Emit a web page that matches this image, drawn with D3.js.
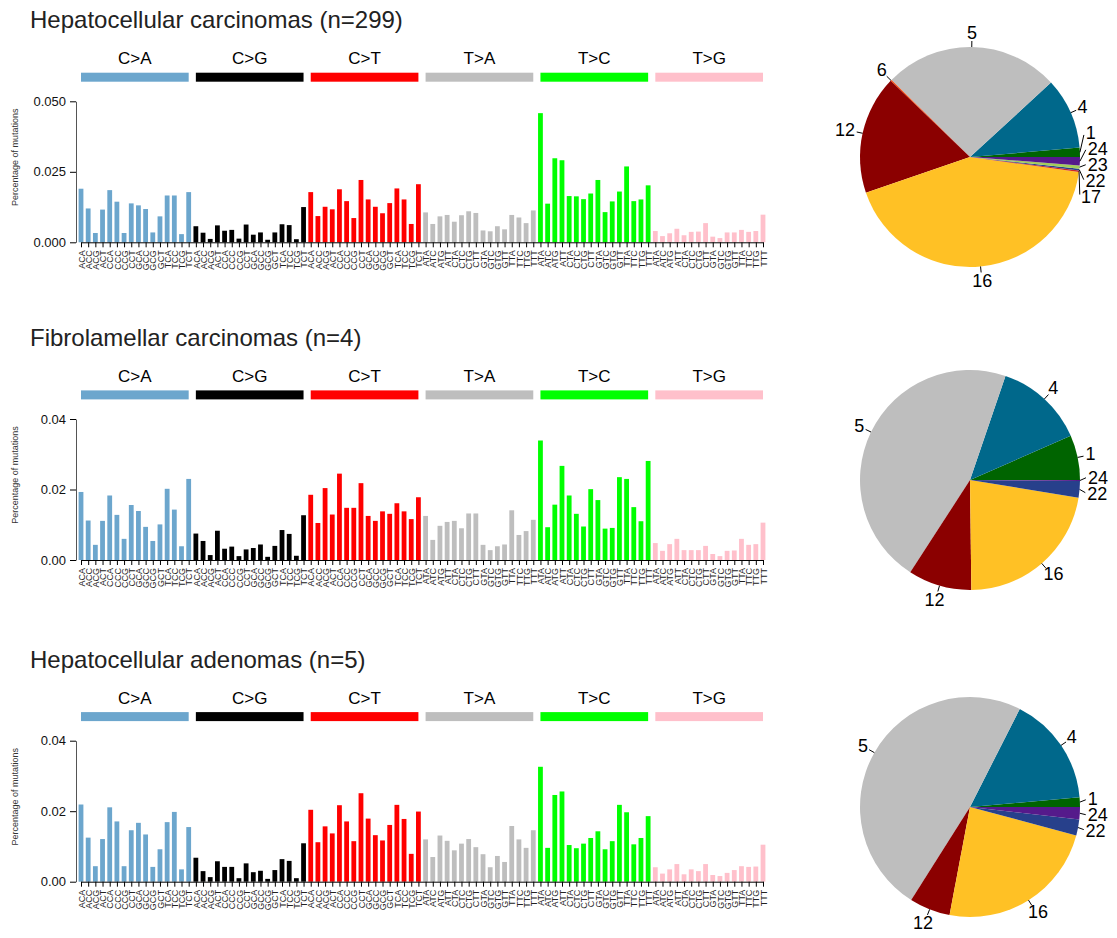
<!DOCTYPE html>
<html><head><meta charset="utf-8">
<script src="https://cdn.jsdelivr.net/npm/d3@7"></script>
<style>
body{margin:0;background:#fff}
svg{display:block}
text{font-family:"Liberation Sans",Arial,Helvetica,sans-serif}
</style>
</head><body>
<svg id="chart" width="1117" height="938"></svg>
<script>
// ---------------- data ----------------
const mutationTypes = ["C>A","C>G","C>T","T>A","T>C","T>G"];
const typeColors = ["#6CA6CD","#000000","#FF0000","#BEBEBE","#00FF00","#FFC0CB"];
const contextsC = ["ACA","ACC","ACG","ACT","CCA","CCC","CCG","CCT","GCA","GCC","GCG","GCT","TCA","TCC","TCG","TCT"];
const contextsT = ["ATA","ATC","ATG","ATT","CTA","CTC","CTG","CTT","GTA","GTC","GTG","GTT","TTA","TTC","TTG","TTT"];

const panelTitles = ["Hepatocellular carcinomas (n=299)","Fibrolamellar carcinomas (n=4)","Hepatocellular adenomas (n=5)"];
const yMaxima = [0.05, 0.04, 0.04];
const yTicks = [[0,0.025,0.05],[0,0.02,0.04],[0,0.02,0.04]];
const yTickFormats = [".3f",".2f",".2f"];

const hccValues = [
 0.0190,0.0120,0.0033,0.0116,0.0185,0.0144,0.0033,0.0138,0.0131,0.0118,0.0035,0.0092,0.0166,0.0166,0.0029,0.0178,
 0.0057,0.0034,0.0012,0.0060,0.0041,0.0044,0.0013,0.0063,0.0027,0.0035,0.0009,0.0035,0.0064,0.0061,0.0011,0.0125,
 0.0178,0.0093,0.0126,0.0117,0.0188,0.0146,0.0086,0.0221,0.0152,0.0126,0.0103,0.0139,0.0191,0.0152,0.0065,0.0206,
 0.0106,0.0065,0.0092,0.0097,0.0073,0.0096,0.0110,0.0104,0.0042,0.0039,0.0057,0.0046,0.0097,0.0088,0.0068,0.0113,
 0.0458,0.0137,0.0298,0.0291,0.0164,0.0163,0.0153,0.0173,0.0221,0.0107,0.0145,0.0180,0.0269,0.0146,0.0152,0.0202,
 0.0040,0.0022,0.0032,0.0048,0.0025,0.0037,0.0038,0.0068,0.0020,0.0015,0.0035,0.0035,0.0044,0.0037,0.0040,0.0098
];
const flcValues = [
 0.0193,0.0112,0.0043,0.0111,0.0183,0.0128,0.0060,0.0156,0.0139,0.0094,0.0054,0.0101,0.0202,0.0143,0.0039,0.0230,
 0.0075,0.0054,0.0014,0.0083,0.0032,0.0038,0.0011,0.0030,0.0034,0.0044,0.0009,0.0040,0.0085,0.0074,0.0012,0.0127,
 0.0185,0.0105,0.0204,0.0129,0.0245,0.0148,0.0148,0.0218,0.0125,0.0111,0.0138,0.0131,0.0161,0.0138,0.0116,0.0178,
 0.0125,0.0057,0.0097,0.0108,0.0111,0.0090,0.0132,0.0132,0.0043,0.0028,0.0039,0.0044,0.0141,0.0071,0.0082,0.0114,
 0.0339,0.0093,0.0157,0.0267,0.0183,0.0131,0.0095,0.0201,0.0170,0.0089,0.0091,0.0235,0.0230,0.0150,0.0110,0.0281,
 0.0048,0.0026,0.0045,0.0060,0.0028,0.0028,0.0028,0.0040,0.0017,0.0011,0.0026,0.0027,0.0060,0.0043,0.0045,0.0106
];
const hcaValues = [
 0.0219,0.0125,0.0044,0.0121,0.0211,0.0171,0.0044,0.0146,0.0167,0.0134,0.0042,0.0092,0.0169,0.0198,0.0035,0.0155,
 0.0068,0.0030,0.0013,0.0058,0.0042,0.0042,0.0010,0.0052,0.0027,0.0031,0.0008,0.0033,0.0064,0.0059,0.0010,0.0109,
 0.0204,0.0112,0.0157,0.0137,0.0217,0.0171,0.0115,0.0251,0.0179,0.0132,0.0117,0.0161,0.0218,0.0178,0.0079,0.0199,
 0.0120,0.0070,0.0131,0.0116,0.0089,0.0108,0.0121,0.0098,0.0078,0.0041,0.0073,0.0056,0.0158,0.0120,0.0096,0.0146,
 0.0326,0.0096,0.0246,0.0256,0.0104,0.0095,0.0108,0.0124,0.0143,0.0092,0.0115,0.0218,0.0197,0.0106,0.0124,0.0186,
 0.0041,0.0023,0.0035,0.0050,0.0021,0.0035,0.0030,0.0050,0.0019,0.0016,0.0025,0.0033,0.0044,0.0042,0.0043,0.0105
];

// signature pies (share of mutations, %)
const hccSignatures = ["1","4","5","6","12","16","17","22","23","24"];
const hccShares     = [1.36,10.47,25.83,0.17,17.42,42.56,0.22,0.25,0.50,1.22];
const flcSignatures = ["1","4","5","12","16","22","24"];
const flcShares     = [6.58,13.19,46.08,9.33,22.22,2.44,0.14];
const hcaSignatures = ["1","4","5","12","16","22","24"];
const hcaShares     = [1.42,16.11,48.50,6.00,23.81,2.36,1.81];
const signatureColors = {"1":"#006400","4":"#00688B","5":"#BEBEBE","6":"#FF4500","12":"#8B0000",
  "16":"#FFC125","17":"#CD2626","22":"#27408B","23":"#A2CD5A","24":"#551A8B"};

// ---------------- layout ----------------
const panelValues = [hccValues, flcValues, hcaValues];
const panelSigs = [hccSignatures, flcSignatures, hcaSignatures];
const panelShares = [hccShares, flcShares, hcaShares];
const zeroYs = [242.3, 560, 881.7];
const pieCYs = [157, 480, 807];
const pieCX = 970, pieR = 110;
const plotH = 141, axisX = 76, barW = 4.8;

const svg = d3.select("#chart");
const contextLabels = mutationTypes.flatMap(t => t[0] === "C" ? contextsC : contextsT);
const keys = d3.range(contextLabels.length);
const x = d3.scalePoint().domain(keys).range([81, 763]);

panelTitles.forEach((title, pi) => {
  const z = zeroYs[pi];
  const g = svg.append("g");
  const y = d3.scaleLinear().domain([0, yMaxima[pi]]).range([z, z - plotH]);

  g.append("text").attr("x", 30).attr("y", z - 214).attr("font-size", 24).attr("fill", "#222").text(title);

  // type strips
  const strips = g.selectAll("g.strip").data(mutationTypes).join("g");
  strips.append("rect")
    .attr("x", (d, i) => x(i * 16)).attr("width", (d, i) => x(i * 16 + 15) - x(i * 16))
    .attr("y", z - 169.6).attr("height", 9).attr("fill", (d, i) => typeColors[i]);
  strips.append("text")
    .attr("x", (d, i) => (x(i * 16) + x(i * 16 + 15)) / 2).attr("y", z - 178)
    .attr("text-anchor", "middle").attr("font-size", 17).attr("fill", "#000").text(d => d);

  // bars
  g.selectAll("rect.bar").data(panelValues[pi]).join("rect").attr("class", "bar")
    .attr("x", (d, i) => x(i) - barW / 2).attr("width", barW)
    .attr("y", d => y(d)).attr("height", d => z - y(d))
    .attr("fill", (d, i) => typeColors[Math.floor(i / 16)]);

  // y axis
  const ya = g.append("g").attr("transform", `translate(${axisX},0)`)
    .call(d3.axisLeft(y).tickValues(yTicks[pi]).tickFormat(d3.format(yTickFormats[pi])).tickSize(6).tickSizeOuter(0).tickPadding(4));
  ya.select(".domain").attr("stroke", "#555");
  ya.selectAll("text").attr("font-size", 13).attr("font-family", "Liberation Sans, Arial, sans-serif").attr("fill", "#111");

  g.append("text").attr("transform", `translate(15,${z - 85}) rotate(-90)`)
    .attr("text-anchor", "middle").attr("dominant-baseline", "central")
    .attr("font-size", 9).attr("fill", "#333").text("Percentage of mutations");

  // x axis
  const xa = g.append("g").attr("transform", `translate(0,${z})`)
    .call(d3.axisBottom(x).tickSize(5).tickSizeOuter(0).tickFormat(i => contextLabels[i]));
  xa.selectAll("text").attr("transform", "rotate(-90)").attr("text-anchor", "end")
    .attr("x", -8).attr("y", 0).attr("dy", "0.35em")
    .attr("font-size", 9).attr("font-family", "Liberation Sans, Arial, sans-serif").attr("fill", "#222");

  // pie
  const cy = pieCYs[pi];
  const pieData = panelSigs[pi].map((k, i) => ({k, v: panelShares[pi][i]}));
  const pie = d3.pie().sort(null).value(d => d.v).startAngle(Math.PI / 2).endAngle(Math.PI / 2 - 2 * Math.PI);
  const arc = d3.arc().innerRadius(0).outerRadius(pieR);
  const arcs = pie(pieData);
  const pg = g.append("g").attr("transform", `translate(${pieCX},${cy})`);
  pg.selectAll("path").data(arcs).join("path").attr("d", arc).attr("fill", d => signatureColors[d.data.k]);

  const Ranchor = 118, halfH = 6.5, gap = 16;
  const labs = pg.selectAll("text").data(arcs).join("text")
    .attr("font-size", 18).attr("fill", "#000").attr("text-anchor", "middle").attr("dominant-baseline", "central")
    .text(d => d.data.k);
  const nodes = labs.nodes();
  const items = arcs.map((a, i) => {
    const th = (a.startAngle + a.endAngle) / 2;
    const ux = Math.sin(th), uy = -Math.cos(th);
    return {a, ux, uy, w: nodes[i].getComputedTextLength(), ly: uy * (Ranchor + halfH), node: nodes[i]};
  });
  // spread crowded side labels
  [1, -1].forEach(side => {
    const sideItems = items.filter(it => it.ux * side > 0.5).sort((p, q) => p.ly - q.ly);
    let clusters = sideItems.map(it => ({items: [it], mean: it.ly}));
    let changed = true;
    while (changed) {
      changed = false;
      for (let i = 1; i < clusters.length; i++) {
        const A = clusters[i - 1], B = clusters[i];
        const aBot = A.mean + (A.items.length - 1) * gap / 2;
        const bTop = B.mean - (B.items.length - 1) * gap / 2;
        if (bTop - aBot < gap) {
          const its = A.items.concat(B.items);
          clusters.splice(i - 1, 2, {items: its, mean: d3.mean(its, it => it.ly)});
          changed = true; break;
        }
      }
    }
    clusters.forEach(c => c.items.forEach((it, j) => { it.ly2 = c.mean + (j - (c.items.length - 1) / 2) * gap; }));
  });
  items.forEach(it => {
    let ux2 = it.ux, uy2 = it.uy;
    if (it.ly2 !== undefined && Math.abs(it.ly2 - it.ly) > 0.01) {
      uy2 = Math.max(-1, Math.min(1, it.ly2 / (Ranchor + halfH)));
      ux2 = Math.sign(it.ux) * Math.sqrt(1 - uy2 * uy2);
    }
    const lx = ux2 * Ranchor + ux2 * it.w / 2;
    const ly = it.ly2 !== undefined ? it.ly2 : uy2 * (Ranchor + halfH);
    d3.select(it.node).attr("x", lx).attr("y", ly);
    pg.append("line")
      .attr("x1", it.ux * pieR).attr("y1", it.uy * pieR)
      .attr("x2", ux2 * (pieR + 6)).attr("y2", uy2 * (pieR + 6))
      .attr("stroke", "#000").attr("stroke-width", 1);
  });
});
</script>
</body></html>
